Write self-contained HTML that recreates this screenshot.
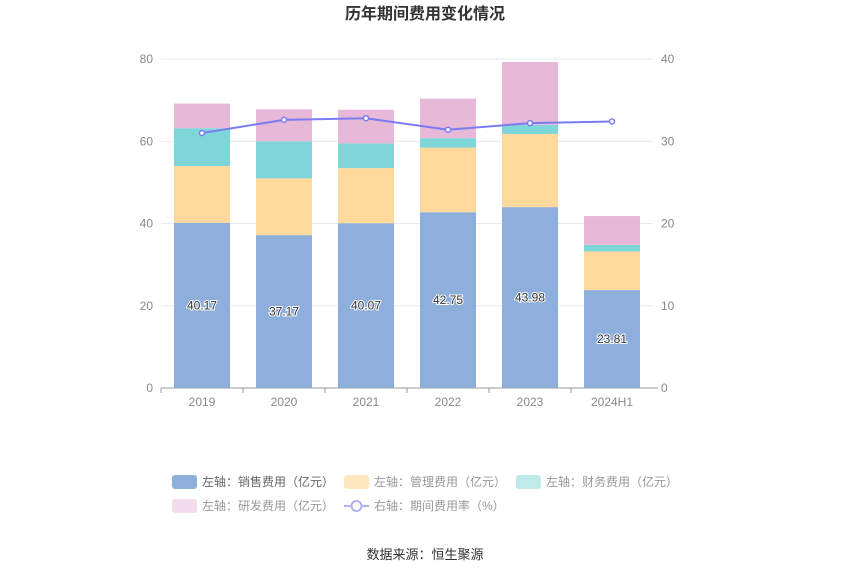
<!DOCTYPE html>
<html><head><meta charset="utf-8"><style>
body{margin:0;background:#fff;font-family:"Liberation Sans","Noto Sans CJK SC",sans-serif}
svg text{font-family:"Liberation Sans","Noto Sans CJK SC",sans-serif}
</style></head><body>
<svg id="c" width="850" height="575">
<text x="425" y="19" text-anchor="middle" font-size="16" font-weight="bold" fill="#333">历年期间费用变化情况</text>
<g id="grid"></g><g id="bars"></g><g id="line"></g>
<g font-size="12" fill="#666">
<g><rect x="172" y="475" width="25" height="14" rx="3" fill="#8eaedb"/><text x="202" y="486" fill="#666">左轴：销售费用（亿元）</text></g>
<g><rect x="344" y="475" width="25" height="14" rx="3" fill="#fee6bf"/><text x="374" y="486" fill="#999">左轴：管理费用（亿元）</text></g>
<g><rect x="516" y="475" width="25" height="14" rx="3" fill="#bfe9ea"/><text x="546" y="486" fill="#999">左轴：财务费用（亿元）</text></g>
<g><rect x="172" y="499" width="25" height="14" rx="3" fill="#f3dcec"/><text x="202" y="510" fill="#999">左轴：研发费用（亿元）</text></g>
<g><line x1="344" y1="506" x2="369" y2="506" stroke="#b0b0f5" stroke-width="2"/><circle cx="356.5" cy="506" r="5" fill="#fff" stroke="#b0b0f5" stroke-width="2"/><text x="374" y="510" fill="#999">右轴：期间费用率（%）</text></g>
</g>
<text x="425" y="559" text-anchor="middle" font-size="13" fill="#333">数据来源：恒生聚源</text>
</svg>
<script>
const categories=["2019","2020","2021","2022","2023","2024H1"];
const sales=[40.17,37.17,40.07,42.75,43.98,23.81];
const mgmt=[13.8,13.8,13.4,15.7,17.8,9.4];
const finance=[9.2,9.0,6.0,2.3,2.2,1.6];
const rd=[6.0,7.8,8.2,9.6,15.3,7.0];
const rate=[31.0,32.6,32.8,31.4,32.2,32.4];
const leftTicks=[0,20,40,60,80];
const rightTicks=[0,10,20,30,40];
const NS="http://www.w3.org/2000/svg";
const x0=161,x1=653,yb=388,yt=59;
const yL=v=>yb-(v/80)*(yb-yt);
const yR=v=>yb-(v/40)*(yb-yt);
const bw=(x1-x0)/categories.length;
const xC=i=>x0+bw*(i+0.5);
function mk(t,a,p){const e=document.createElementNS(NS,t);for(const k in a)e.setAttribute(k,a[k]);p.appendChild(e);return e;}
const g=document.getElementById('grid'),b=document.getElementById('bars'),l=document.getElementById('line');
leftTicks.forEach((v,i)=>{
 const gl=mk('line',{x1:x0,x2:x1,y1:yL(v),y2:yL(v),stroke:i?'#e6e9f0':'#999'},g);
 
 
 const t=mk('text',{x:x0-8,y:yL(v)+4,'text-anchor':'end','font-size':12,fill:'#888'},g);t.textContent=v;
 
 
});
rightTicks.forEach(v=>{
 const t=mk('text',{x:x1+8,y:yR(v)+4,'font-size':12,fill:'#888'},g);t.textContent=v;
 
 
});
categories.forEach((c,i)=>{
 const tk=mk('line',{x1:x0+bw*i,x2:x0+bw*i,y1:yb,y2:yb+5,stroke:'#999'},g);
 
 
 const t=mk('text',{x:xC(i),y:yb+18,'text-anchor':'middle','font-size':12,fill:'#888'},g);t.textContent=c;
 
 
});
mk('line',{x1:x1,x2:x1+5,y1:yb,y2:yb,stroke:'#999'},g);
const series=[[sales,'#8eaedb','bar-sales'],[mgmt,'#fed99b','bar-mgmt'],[finance,'#7fd6d9','bar-finance'],[rd,'#e8b8d8','bar-rd']];
categories.forEach((c,i)=>{
 let acc=0;
 series.forEach(([arr,col,nm])=>{
  const r=mk('rect',{x:xC(i)-28,width:56,y:yL(acc+arr[i]),height:yL(acc)-yL(acc+arr[i]),fill:col},b);
  
  
  acc+=arr[i];
 });
 const t=mk('text',{x:xC(i),y:yL(sales[i]/2)+4,'text-anchor':'middle','font-size':12,fill:'#333',stroke:'#fff','stroke-width':2,'paint-order':'stroke'},b);
 t.textContent=sales[i].toFixed(2);
 
 
});
const pl=mk('polyline',{points:rate.map((v,i)=>xC(i)+','+yR(v)).join(' '),fill:'none',stroke:'#7b7bf0','stroke-width':2},l);


rate.forEach((v,i)=>{
 const p=mk('circle',{cx:xC(i),cy:yR(v),r:2.5,fill:'#fff',stroke:'#7b7bf0','stroke-width':1.5},l);
 
 
});
</script>
</body></html>
